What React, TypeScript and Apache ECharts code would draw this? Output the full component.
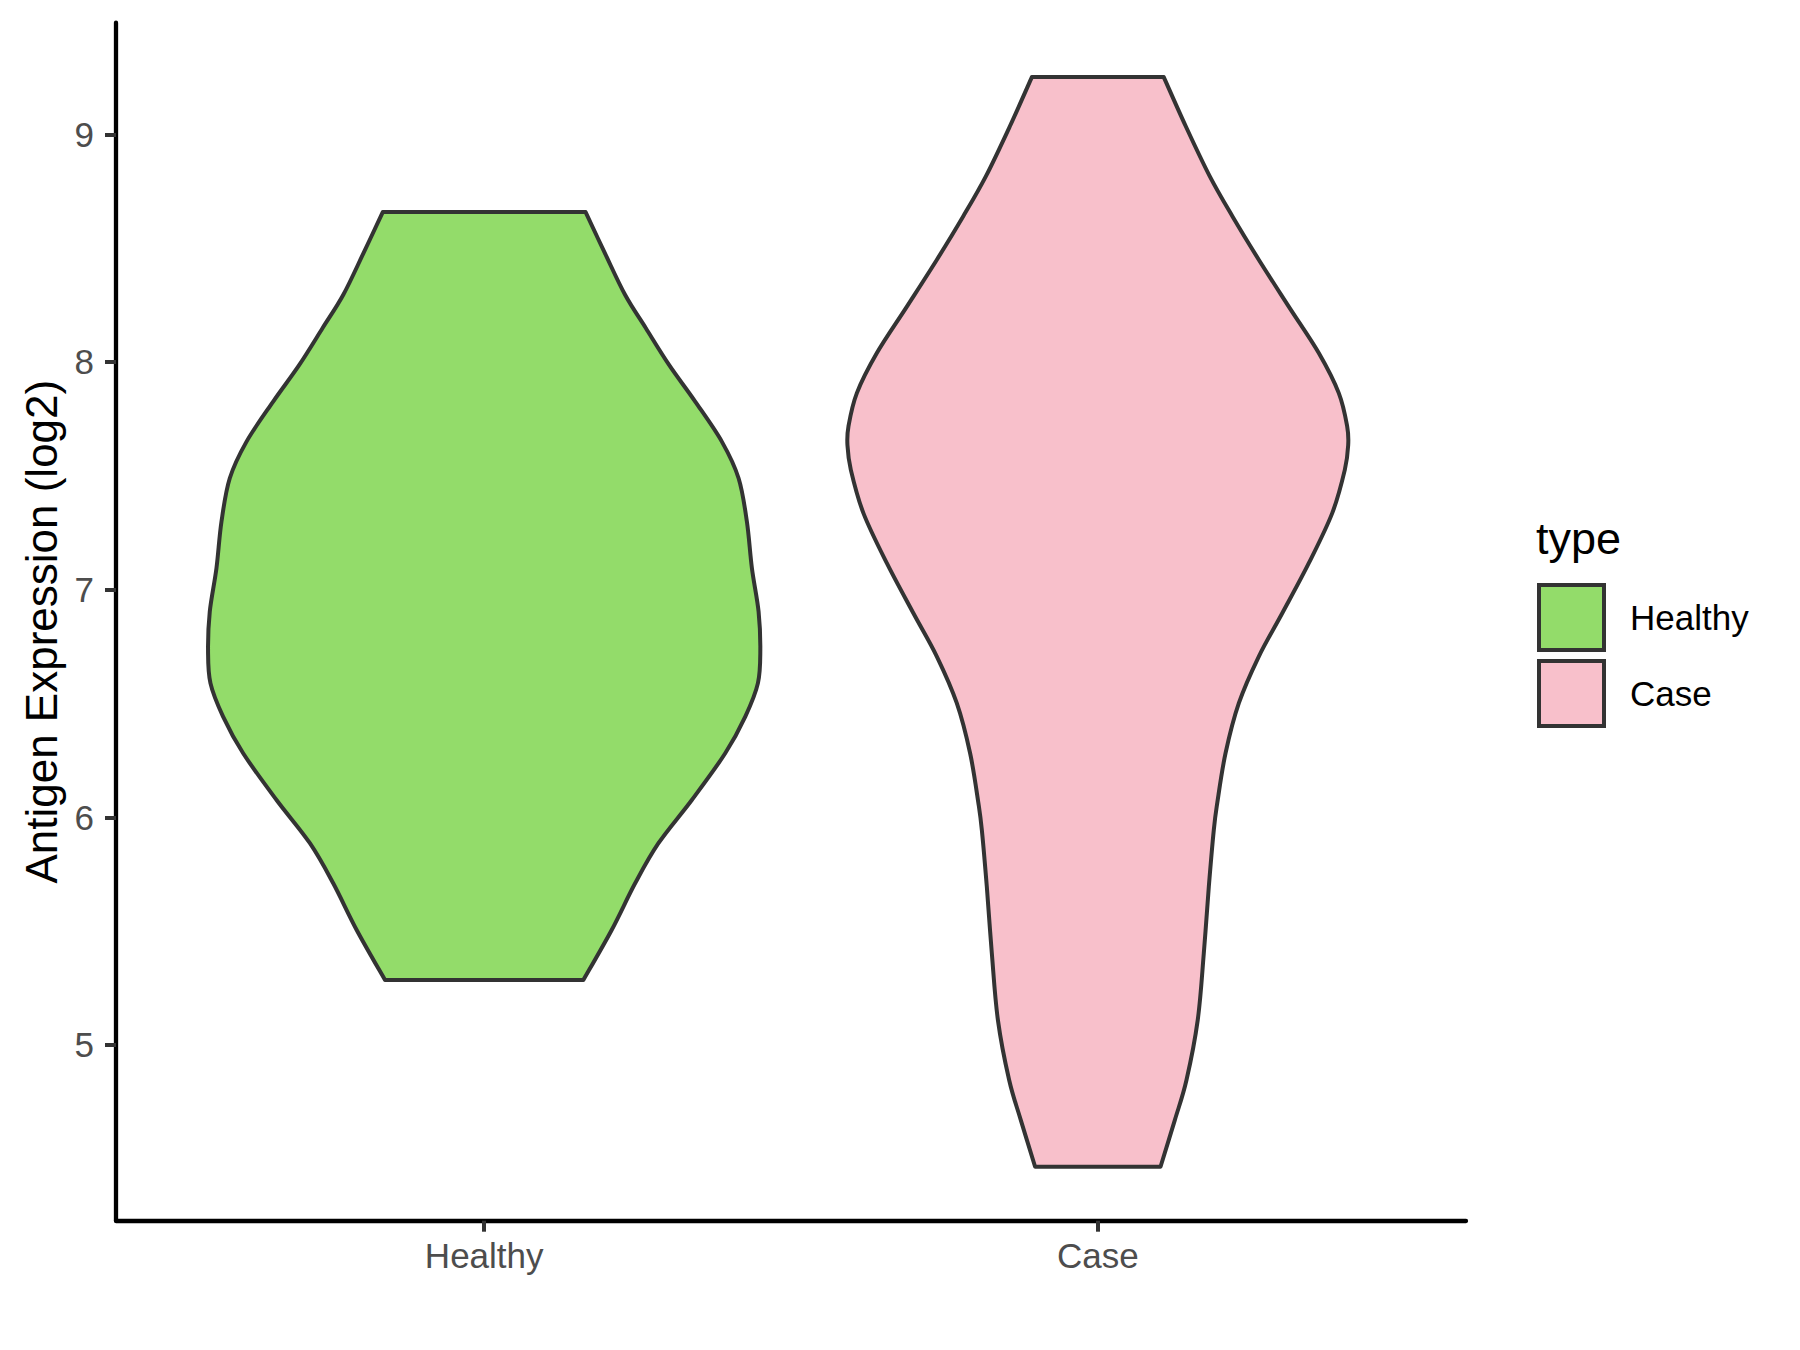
import React, { useEffect, useRef } from "react";
import * as echarts from "echarts";

const categories = ["Healthy", "Case"];
const fills = ["#93DC6A", "#F8C0CB"];

// violin half-width profiles (y value, half width in x units), bottom to top
const healthyY = [5.285, 5.505, 5.71, 5.886, 6.076, 6.281, 6.442, 6.589, 6.735, 6.903, 7.094, 7.299, 7.489, 7.65, 7.826, 7.987, 8.149, 8.295, 8.478, 8.658];
const healthyW = [0.1616, 0.2078, 0.246, 0.284, 0.3384, 0.3928, 0.4255, 0.4461, 0.45, 0.4472, 0.4363, 0.4281, 0.4146, 0.3873, 0.3439, 0.3013, 0.2633, 0.2296, 0.1967, 0.1653];

const caseY = [4.465, 4.67, 4.846, 5.109, 5.402, 5.695, 5.944, 6.062, 6.281, 6.501, 6.706, 6.896, 7.116, 7.336, 7.526, 7.634, 7.716, 7.863, 8.039, 8.243, 8.449, 8.639, 8.815, 9.034, 9.251];
const caseW = [0.1022, 0.1255, 0.1445, 0.1628, 0.1727, 0.1809, 0.189, 0.1946, 0.2081, 0.2298, 0.2623, 0.3005, 0.3438, 0.382, 0.4025, 0.408, 0.4064, 0.3927, 0.3601, 0.3112, 0.2623, 0.2195, 0.1825, 0.1435, 0.1075];

const yTicks = [5, 6, 7, 8, 9];
const xTicks = [1, 2];
const yMin = 4.228;
const yMax = 9.49;
const xMin = 0.4;
const xMax = 2.6;

const FONT = "'Liberation Sans', Arial, sans-serif";

function bezierSegs(pts: number[][]): string {
  let d = "";
  const n = pts.length;
  for (let i = 0; i < n - 1; i++) {
    const p0 = pts[Math.max(i - 1, 0)];
    const p1 = pts[i];
    const p2 = pts[i + 1];
    const p3 = pts[Math.min(i + 2, n - 1)];
    const c1x = p1[0] + (p2[0] - p0[0]) / 6;
    const c1y = p1[1] + (p2[1] - p0[1]) / 6;
    const c2x = p2[0] - (p3[0] - p1[0]) / 6;
    const c2y = p2[1] - (p3[1] - p1[1]) / 6;
    d += ` C ${c1x} ${c1y} ${c2x} ${c2y} ${p2[0]} ${p2[1]}`;
  }
  return d;
}

function violinRender(center: number, ys: number[], ws: number[], fill: string) {
  return (params: any, api: any) => {
    const left = ys.map((y, i) => api.coord([center - ws[i], y]));
    const right = ys.map((y, i) => api.coord([center + ws[i], y])).reverse();
    let d = `M ${left[0][0]} ${left[0][1]}`;
    d += bezierSegs(left);
    d += ` L ${right[0][0]} ${right[0][1]}`;
    d += bezierSegs(right);
    d += " Z";
    return {
      type: "path",
      shape: { pathData: d },
      style: { fill, stroke: "#333333", lineWidth: 4, lineJoin: "round" },
    };
  };
}

export default function App() {
  const ref = useRef<HTMLDivElement>(null);
  useEffect(() => {
    if (!ref.current) return;
    const chart = echarts.init(ref.current, null, { renderer: "svg" });
    const profiles = [
      { ys: healthyY, ws: healthyW },
      { ys: caseY, ws: caseW },
    ];
    chart.setOption({
      animation: false,
      backgroundColor: "#ffffff",
      title: {
        text: "type",
        left: 1536,
        top: 516,
        padding: 0,
        textStyle: { fontSize: 45, fontWeight: "normal", color: "#000", fontFamily: FONT },
      },
      legend: {
        orient: "vertical",
        left: 1537,
        top: 583,
        padding: 0,
        itemWidth: 65,
        itemHeight: 65,
        itemGap: 7,
        selectedMode: false,
        icon: "rect",
        textStyle: { fontSize: 35, color: "#000", fontFamily: FONT, padding: [0, 0, 0, 21] },
        data: categories.map((c, i) => ({
          name: c,
          icon: "rect",
          itemStyle: { color: fills[i], borderColor: "#333333", borderWidth: 4 },
        })),
      },
      grid: { left: 116, right: 334, top: 22.7, bottom: 129.3, containLabel: false },
      xAxis: {
        type: "value",
        min: xMin,
        max: xMax,
        splitLine: { show: false },
        axisLine: { show: true, lineStyle: { color: "#000", width: 4.3 } },
        axisTick: { show: true, customValues: xTicks, length: 11, lineStyle: { color: "#333333", width: 4 } },
        axisLabel: {
          customValues: xTicks,
          formatter: (v: number) => categories[Math.round(v) - 1] || "",
          fontSize: 35,
          color: "#4D4D4D",
          fontFamily: FONT,
          margin: 17,
        },
      },
      yAxis: {
        type: "value",
        min: yMin,
        max: yMax,
        name: "Antigen Expression (log2)",
        nameLocation: "middle",
        nameGap: 48,
        nameTextStyle: { fontSize: 44, color: "#000", fontFamily: FONT, padding: [0, 20, 0, 0] },
        splitLine: { show: false },
        axisLine: { show: true, lineStyle: { color: "#000", width: 4.3 } },
        axisTick: { show: true, customValues: yTicks, length: 11, lineStyle: { color: "#333333", width: 4 } },
        axisLabel: {
          customValues: yTicks,
          formatter: (v: number) => String(v),
          fontSize: 35,
          color: "#4D4D4D",
          fontFamily: FONT,
          margin: 22,
        },
      },
      series: categories.map((c, i) => ({
        type: "custom",
        name: c,
        itemStyle: { color: fills[i], borderColor: "#333333", borderWidth: 4 },
        renderItem: violinRender(i + 1, profiles[i].ys, profiles[i].ws, fills[i]),
        data: [[i + 1, profiles[i].ys[0]]],
        encode: { x: 0, y: 1 },
        z: 2,
      })),
    });
    return () => chart.dispose();
  }, []);
  return (
    <div
      ref={ref}
      style={{ position: "absolute", left: 0, top: 0, width: 1800, height: 1350 }}
    />
  );
}
